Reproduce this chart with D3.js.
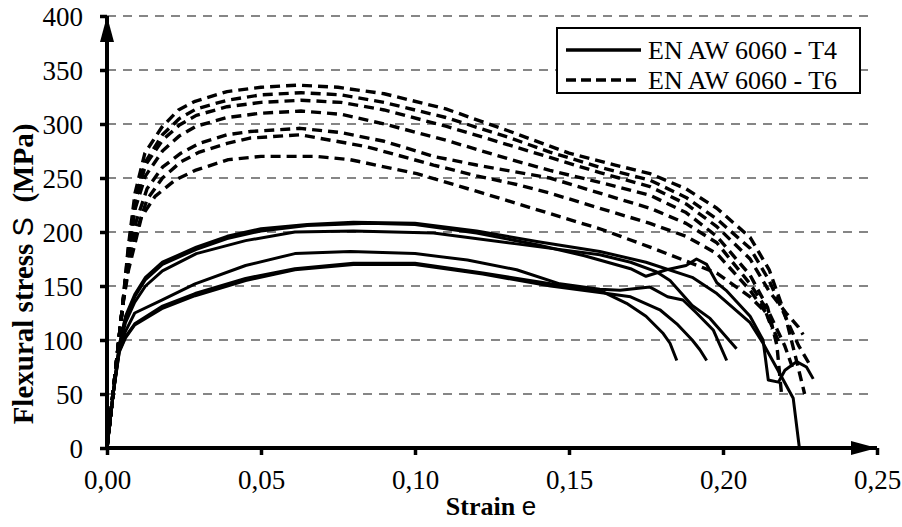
<!DOCTYPE html>
<html>
<head>
<meta charset="utf-8">
<script src="https://cdn.jsdelivr.net/npm/d3@7"></script>
<style>
  body { margin: 0; background: #fff; }
  svg { display: block; }
</style>
</head>
<body>
<svg id="chart" width="902" height="527"></svg>
<script>
// strain / stress readings, [strain, MPa]
const t4_1 = [[0,0],[0.002,50],[0.004,95],[0.006,122],[0.009,142],[0.0125,158],[0.018,172],[0.029,186],[0.039,196],[0.05,203],[0.065,207],[0.08,209],[0.1,208],[0.12,201],[0.14,191],[0.16,182],[0.175,172],[0.19,158],[0.198,143],[0.2088,116],[0.213,97],[0.219,66],[0.2228,46],[0.2248,0]];
const t4_2 = [[0,0],[0.002,50],[0.004,95],[0.006,120],[0.009,140],[0.0125,156],[0.018,170],[0.029,184],[0.039,194],[0.05,201],[0.065,206],[0.085,208],[0.1,207],[0.12,199],[0.14,188],[0.155,178],[0.17,166],[0.175,159],[0.1817,165],[0.188,169],[0.1914,175],[0.1947,170],[0.198,153],[0.201,146],[0.2088,122],[0.213,100],[0.2147,63],[0.218,61],[0.2201,72],[0.2239,80],[0.2271,75],[0.2293,64]];
const t4_3 = [[0,0],[0.002,50],[0.004,93],[0.006,116],[0.009,135],[0.0125,150],[0.018,164],[0.029,180],[0.045,192],[0.061,200],[0.08,201],[0.106,199],[0.133,189],[0.16,179],[0.17,172],[0.1785,163],[0.1828,155],[0.19,132],[0.1958,120],[0.2044,92]];
const t4_4 = [[0,0],[0.002,50],[0.004,92],[0.006,108],[0.009,125],[0.0178,137],[0.0286,152],[0.045,169],[0.061,180],[0.079,182],[0.1,180],[0.117,174],[0.133,165],[0.147,152],[0.16,147],[0.1666,146],[0.1763,149],[0.182,140],[0.187,137],[0.1914,125],[0.1969,109],[0.2012,81]];
const t4_5 = [[0,0],[0.002,50],[0.004,90],[0.006,103],[0.009,115],[0.0178,131],[0.0286,143],[0.045,157],[0.061,166],[0.08,171],[0.1,171],[0.122,162],[0.144,152],[0.16,146],[0.1687,134],[0.175,122],[0.1806,106],[0.1828,97],[0.185,81]];
const t4_6 = [[0,0],[0.002,50],[0.004,89],[0.006,102],[0.009,114],[0.0178,129],[0.0286,141],[0.045,155],[0.061,165],[0.08,170],[0.1,170],[0.122,161],[0.144,150],[0.16,144],[0.17,140],[0.1795,128],[0.185,115],[0.19,100],[0.1925,91],[0.1947,81]];

const t6_1 = [[0,0],[0.003,78],[0.005,130],[0.0069,186],[0.0091,236],[0.0123,273],[0.0178,297],[0.0232,313],[0.0286,321],[0.039,330],[0.05,334],[0.062,336],[0.075,334],[0.09,328],[0.11,314],[0.13,294],[0.15,273],[0.165,262],[0.1763,254],[0.188,240],[0.198,222],[0.2088,195],[0.215,165],[0.22,125],[0.2235,85],[0.2265,50]];
const t6_2 = [[0,0],[0.003,78],[0.005,130],[0.007,180],[0.0092,228],[0.0125,265],[0.018,290],[0.0235,305],[0.029,314],[0.039,322],[0.05,327],[0.063,329],[0.076,327],[0.09,320],[0.11,306],[0.13,288],[0.1438,274],[0.16,260],[0.1763,248],[0.188,232],[0.198,212],[0.2088,185],[0.215,155],[0.2205,120],[0.2245,95],[0.228,78]];
const t6_3 = [[0,0],[0.003,78],[0.005,130],[0.0069,183],[0.0091,228],[0.0125,262],[0.018,285],[0.0235,299],[0.029,308],[0.039,316],[0.05,320],[0.063,322],[0.076,320],[0.09,313],[0.11,298],[0.13,281],[0.1438,269],[0.16,255],[0.1763,242],[0.188,226],[0.198,205],[0.2088,175],[0.215,145],[0.2205,125],[0.2245,112],[0.226,105]];
const t6_4 = [[0,0],[0.003,78],[0.005,130],[0.007,180],[0.0092,222],[0.0125,252],[0.018,275],[0.0235,289],[0.029,298],[0.039,306],[0.05,310],[0.063,312],[0.076,309],[0.09,300],[0.11,285],[0.13,268],[0.1438,257],[0.16,246],[0.1763,234],[0.188,218],[0.198,196],[0.2088,160],[0.2145,130],[0.2175,95],[0.219,50]];
const t6_5 = [[0,0],[0.003,78],[0.005,130],[0.007,175],[0.0095,210],[0.013,240],[0.018,260],[0.024,273],[0.03,282],[0.039,290],[0.0464,293],[0.0627,296],[0.076,292],[0.09,284],[0.106,270],[0.12,262],[0.1438,250],[0.16,236],[0.1763,222],[0.188,208],[0.198,190],[0.2088,152],[0.215,125],[0.22,95],[0.2225,75]];
const t6_6 = [[0,0],[0.003,78],[0.005,130],[0.007,170],[0.0095,200],[0.013,230],[0.018,250],[0.024,265],[0.03,274],[0.039,282],[0.0464,287],[0.0627,290],[0.0843,279],[0.106,262],[0.12,252],[0.133,244],[0.1438,236],[0.16,222],[0.1763,208],[0.188,196],[0.198,180],[0.2088,146],[0.214,125],[0.2185,96]];
const t6_7 = [[0,0],[0.003,78],[0.005,130],[0.007,165],[0.0112,214],[0.0156,233],[0.0221,248],[0.0286,257],[0.0394,267],[0.05,270],[0.068,270],[0.0789,267],[0.1006,254],[0.122,236],[0.1438,217],[0.16,203],[0.1763,186],[0.198,162],[0.2088,140],[0.214,125],[0.216,110]];

const seriesT4 = [t4_1, t4_2, t4_3, t4_4, t4_5, t4_6];
const seriesT6 = [t6_1, t6_2, t6_3, t6_4, t6_5, t6_6, t6_7];

const xTicks = [0, 0.05, 0.10, 0.15, 0.20, 0.25];
const yTicks = [0, 50, 100, 150, 200, 250, 300, 350, 400];
const legendLabels = ["EN AW 6060 - T4", "EN AW 6060 - T6"];

const serif = "'Liberation Serif', 'Times New Roman', serif";
const sans = "'Liberation Sans', Arial, sans-serif";

const svg = d3.select("#chart");
svg.append("rect").attr("width", 902).attr("height", 527).attr("fill", "#fff");

const x = d3.scaleLinear().domain([0, 0.25]).range([107, 877]);
const y = d3.scaleLinear().domain([0, 400]).range([448, 16]);

// arrow heads
const defs = svg.append("defs");
defs.append("marker")
  .attr("id", "arrow")
  .attr("markerUnits", "userSpaceOnUse")
  .attr("viewBox", "0 0 26 14")
  .attr("refX", 26).attr("refY", 7)
  .attr("markerWidth", 26).attr("markerHeight", 14)
  .attr("orient", "auto")
  .append("path")
  .attr("d", "M0,0L26,7L0,14Z")
  .attr("fill", "#000");

// grid
svg.append("g")
  .selectAll("line")
  .data(yTicks.filter(d => d > 0))
  .join("line")
  .attr("x1", x(0)).attr("x2", x(0.25) - 8)
  .attr("y1", d => y(d)).attr("y2", d => y(d))
  .attr("stroke", "#868686")
  .attr("stroke-width", 2.2)
  .attr("stroke-dasharray", "9,7");

// axes
const fmt = d => d3.format(".2f")(d).replace(".", ",");
const gx = svg.append("g")
  .attr("transform", `translate(0,${y(0)})`)
  .call(d3.axisBottom(x).tickValues(xTicks).tickFormat(fmt).tickSize(7).tickSizeOuter(0));
const gy = svg.append("g")
  .attr("transform", `translate(${x(0)},0)`)
  .call(d3.axisLeft(y).tickValues(yTicks).tickSize(7).tickSizeOuter(0));

[gx, gy].forEach(g => {
  g.select(".domain").remove();
  g.selectAll(".tick line").attr("stroke", "#000").attr("stroke-width", 3.5);
  g.selectAll(".tick text")
    .attr("fill", "#000")
    .style("font-family", serif)
    .style("font-size", "27px");
});
gx.selectAll(".tick text").attr("y", 22).attr("dy", "0.71em");
gy.selectAll(".tick text").attr("x", -24).attr("dy", "0.34em");

// curves
const line = d3.line().x(d => x(d[0])).y(d => y(d[1]));

svg.append("g")
  .selectAll("path")
  .data(seriesT6)
  .join("path")
  .attr("d", line)
  .attr("fill", "none")
  .attr("stroke", "#000")
  .attr("stroke-width", 3.4)
  .attr("stroke-dasharray", "10,6")
  .attr("stroke-linejoin", "round");

svg.append("g")
  .selectAll("path")
  .data(seriesT4)
  .join("path")
  .attr("d", line)
  .attr("fill", "none")
  .attr("stroke", "#000")
  .attr("stroke-width", 3)
  .attr("stroke-linejoin", "round");

// axis lines with arrows
svg.append("line")
  .attr("x1", x(0)).attr("x2", x(0.25))
  .attr("y1", y(0)).attr("y2", y(0))
  .attr("stroke", "#000").attr("stroke-width", 4)
  .attr("marker-end", "url(#arrow)");
svg.append("line")
  .attr("x1", x(0)).attr("x2", x(0))
  .attr("y1", y(0)).attr("y2", y(400))
  .attr("stroke", "#000").attr("stroke-width", 4)
  .attr("marker-end", "url(#arrow)");

// axis titles
const xt = svg.append("text")
  .attr("x", 491).attr("y", 515)
  .attr("text-anchor", "middle")
  .style("font-family", serif).style("font-size", "26px").style("font-weight", "bold");
xt.append("tspan").text("Strain ");
xt.append("tspan").style("font-family", sans).style("font-weight", "normal").text("e");

const yt = svg.append("text")
  .attr("transform", "translate(33,274) rotate(-90)")
  .attr("text-anchor", "middle")
  .style("font-family", serif).style("font-size", "29px").style("font-weight", "bold");
yt.append("tspan").text("Flexural stress ");
yt.append("tspan").style("font-family", sans).style("font-weight", "normal").text("S");
yt.append("tspan").text("\u00a0 (MPa)");

// legend
const lg = svg.append("g").attr("transform", "translate(557,28)");
lg.append("rect")
  .attr("width", 303).attr("height", 65)
  .attr("fill", "#fff").attr("stroke", "#000").attr("stroke-width", 2);
const rows = lg.selectAll("g.row")
  .data(legendLabels)
  .join("g")
  .attr("class", "row")
  .attr("transform", (d, i) => `translate(0,${22 + i * 30})`);
rows.append("line")
  .attr("x1", 9).attr("x2", 84)
  .attr("stroke", "#000").attr("stroke-width", 3.5)
  .attr("stroke-dasharray", (d, i) => i ? "10,5" : null);
rows.append("text")
  .attr("x", 91).attr("dy", "0.33em")
  .style("font-family", serif).style("font-size", "26px")
  .text(d => d);
</script>
</body>
</html>
